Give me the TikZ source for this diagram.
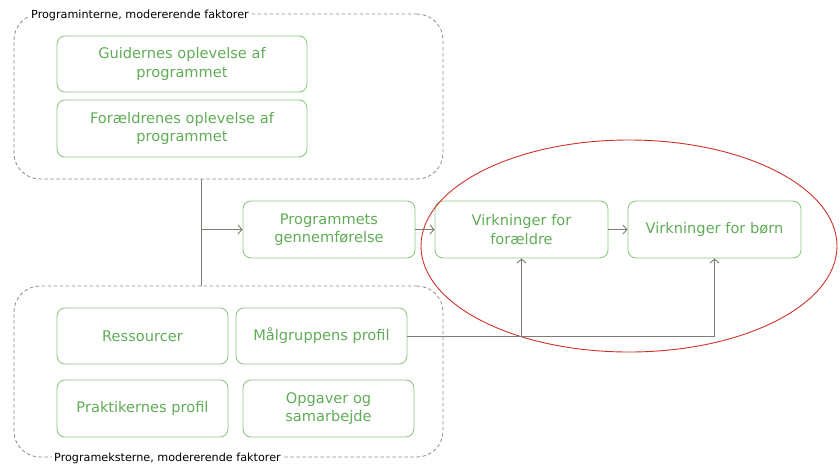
\documentclass[tikz,border=0pt]{standalone}
\usepackage{fontspec}
\setmainfont{DejaVu Sans}
\usetikzlibrary{arrows.meta,shapes.geometric,calc}
\definecolor{gtext}{RGB}{96,172,86}
\definecolor{gbord}{RGB}{140,200,128}
\definecolor{conn}{RGB}{128,124,114}
\definecolor{dgray}{RGB}{140,140,140}
\definecolor{ered}{RGB}{205,50,40}
\begin{document}
\begin{tikzpicture}[x=1pt,y=-1pt,
  box/.style={draw=gbord,line width=0.9pt,rounded corners=8pt,text=gtext,align=center,
    font=\fontsize{14.6}{18.5}\selectfont,inner sep=0pt},
  grp/.style={draw=dgray,dashed,dash pattern=on 3.5pt off 2.5pt,line width=0.8pt,rounded corners=26pt,inner sep=0pt},
  grplabel/.style={fill=white,inner sep=2pt,font=\fontsize{11.2}{13}\selectfont,text=black},
  conline/.style={draw=conn,line width=0.9pt},
  arr/.style={conline,-{Straight Barb[length=4pt,width=9pt]}}]
\useasboundingbox (0,0) rectangle (840,464);
% groups
\node[grp,minimum width=429pt,minimum height=165pt] (topgrp) at (228.5,96.5) {};
\node[grp,minimum width=429pt,minimum height=171pt] (botgrp) at (228.5,371.5) {};
\node[grplabel,anchor=west] (toplab) at (29,15) {Programinterne, modererende faktorer};
\node[grplabel,anchor=west] (botlab) at (52,458) {Programeksterne, modererende faktorer};
% top boxes
\node[box,minimum width=250pt,minimum height=56pt] (guid) at (182,64) {Guidernes oplevelse af\\programmet};
\node[box,minimum width=250pt,minimum height=57pt] (forae) at (182,128.5) {Forældrenes oplevelse af\\programmet};
% middle
\node[box,minimum width=172pt,minimum height=57pt] (prog) at (329,229.5) {Programmets\\gennemførelse};
\node[box,minimum width=173pt,minimum height=57pt] (vff) at (521.5,229.5) {Virkninger for\\forældre};
\node[box,minimum width=173pt,minimum height=57pt] (vfb) at (714.5,229.5) {Virkninger for børn};
% bottom boxes
\node[box,minimum width=171pt,minimum height=56pt] (ress) at (142.5,336) {Ressourcer};
\node[box,minimum width=171pt,minimum height=56pt] (malg) at (321.5,336) {Målgruppens profil};
\node[box,minimum width=171pt,minimum height=57pt] (prak) at (142.5,408.5) {Praktikernes profil};
\node[box,minimum width=171pt,minimum height=57pt] (opg) at (328.5,408.5) {Opgaver og\\samarbejde};
% ellipse
\node[draw=ered,line width=0.9pt,ellipse,minimum width=416pt,minimum height=212pt,inner sep=0pt] (ell) at (629,246) {};
% connectors
\coordinate (vtop) at (201,179);
\coordinate (vbot) at (201,286);
\coordinate (vmid) at (201,229.5);
\draw[conline] (vtop) -- (vbot);
\draw[arr] (vmid) -- (prog.west);
\draw[arr] (prog.east) -- (vff.west);
\draw[arr] (vff.east) -- (vfb.west);
\draw[conline] (malg.east) -- (malg.east -| vfb.south);
\draw[arr] (malg.east -| vfb.south) -- (vfb.south);
\draw[arr] (malg.east -| vff.south) -- (vff.south);
\end{tikzpicture}
\end{document}
